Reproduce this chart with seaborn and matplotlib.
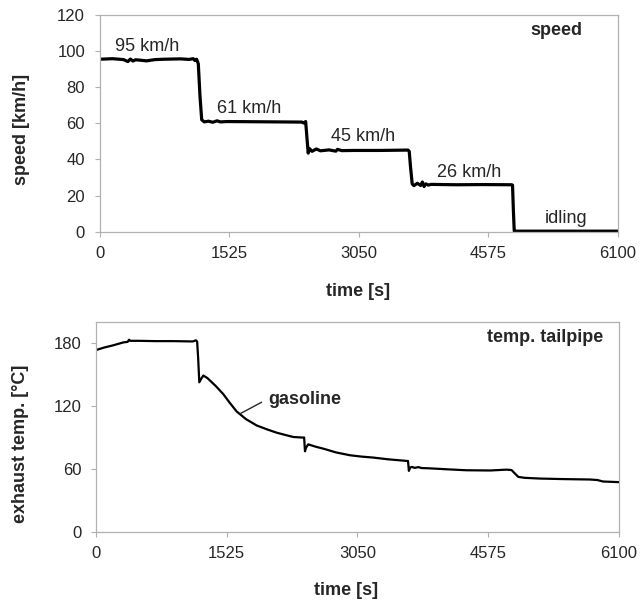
import matplotlib
matplotlib.use("Agg")
import matplotlib.pyplot as plt
import seaborn as sns
import pandas as pd

sns.set_theme(style="white")
plt.rcParams['font.family'] = ['Liberation Sans', 'DejaVu Sans']

# ---- data ----
speed_t = [0, 150, 280, 330, 360, 390, 420, 470, 550, 650, 750, 850, 950, 1050, 1100, 1120,
           1140, 1160, 1180, 1200, 1230, 1280, 1330, 1380, 1420, 1500, 1800, 2100, 2380, 2400,
           2425, 2440, 2455, 2470, 2500, 2550, 2600, 2700, 2780, 2800, 2850, 3000, 3300, 3630,
           3645, 3660, 3680, 3700, 3740, 3780, 3800, 3820, 3840, 3870, 3900, 4200, 4500, 4850,
           4862, 4872, 4882, 4892, 5200, 5600, 6100]
speed_v = [95.5, 95.8, 95.3, 94.2, 95.6, 94.5, 95.2, 95.0, 94.6, 95.3, 95.5, 95.6, 95.7, 95.4, 95.8, 94.8,
           95.5, 93.0, 75.0, 62.0, 60.8, 61.2, 60.6, 61.4, 60.8, 61.0, 60.9, 60.8, 60.7, 60.2,
           61.0, 52.0, 43.5, 46.0, 44.5, 45.8, 44.8, 45.3, 44.6, 45.6, 44.9, 45.0, 45.0, 45.2,
           44.5, 36.0, 26.5, 25.5, 26.8, 25.6, 27.5, 25.0, 26.5, 25.8, 26.2, 26.0, 26.1, 26.0,
           25.8, 12.0, 0.5, 0.3, 0.3, 0.3, 0.3]

temp_t = [0, 100, 200, 320, 370, 385, 400, 500, 700, 900, 1130, 1165, 1180, 1192, 1205, 1230,
          1252, 1300, 1400, 1485, 1560, 1641, 1750, 1874, 2000, 2108, 2200, 2302, 2418, 2428,
          2438, 2450, 2476, 2560, 2651, 2800, 2963, 3100, 3234, 3400, 3624, 3640, 3650, 3665,
          3682, 3720, 3760, 3800, 3876, 4100, 4324, 4600, 4790, 4848, 4880, 4926, 5000, 5179,
          5450, 5762, 5850, 5914, 6100]
temp_v = [173.0, 175.5, 177.5, 180.3, 180.8, 182.8, 181.8, 181.8, 181.5, 181.5, 181.2, 182.3, 181.0, 165.0, 142.3, 146.0,
          148.7, 146.3, 138.5, 131.0, 122.8, 114.5, 107.2, 101.2, 97.3, 94.3, 92.3, 90.2, 89.6, 89.8,
          76.6, 80.0, 83.2, 81.0, 79.1, 75.5, 72.8, 71.5, 70.6, 69.0, 67.4, 67.3, 57.9, 61.0,
          61.7, 60.8, 61.5, 60.6, 60.4, 59.4, 58.5, 58.3, 59.1, 58.7, 56.0, 52.2, 51.3, 50.6,
          50.1, 49.7, 49.2, 47.8, 47.2]

x_ticks = [0, 1525, 3050, 4575, 6100]
speed_ticks = [0, 20, 40, 60, 80, 100, 120]
temp_ticks = [0, 60, 120, 180]
speed_labels = ["95 km/h", "61 km/h", "45 km/h", "26 km/h", "idling"]
speed_label_pos = [(562, 102.4), (1758, 68), (3097, 52.5), (4347, 33), (5495, 7.3)]

df_speed = pd.DataFrame({"t": speed_t, "v": speed_v})
df_temp = pd.DataFrame({"t": temp_t, "v": temp_v})

fig = plt.figure(figsize=(6.4, 6.02), dpi=100)
ax1 = fig.add_axes([0.156, 0.6151, 0.809, 0.360])
ax2 = fig.add_axes([0.150, 0.1168, 0.817, 0.3488])

spine_col = "#b0b0b0"
txt_col = "#262626"

sns.lineplot(data=df_speed, x="t", y="v", ax=ax1, color="black", linewidth=2.3, sort=False)
sns.lineplot(data=df_temp, x="t", y="v", ax=ax2, color="black", linewidth=1.6, sort=False)

label_cfg = [(ax1, speed_ticks, (0, 120), "speed [km/h]", (-0.1506, 0.47), (0.499, -0.277)),
             (ax2, temp_ticks, (0, 200), "exhaust temp. [°C]", (-0.145, 0.42), (0.479, -0.279))]
for ax, yt, ylim, ylab, ylc, xlc in label_cfg:
    ax.set_xlim(0, 6100)
    ax.set_ylim(*ylim)
    ax.set_xticks(x_ticks)
    ax.set_yticks(yt)
    ax.set_xticklabels([str(v) for v in x_ticks])
    ax.tick_params(axis="both", direction="out", length=3.6, width=0.8, color=spine_col,
                   labelsize=12, labelcolor=txt_col, left=True, bottom=True)
    ax.tick_params(axis="x", pad=6.5)
    ax.tick_params(axis="y", pad=7)
    for s in ax.spines.values():
        s.set_color(spine_col)
        s.set_linewidth(0.9)
    ax.set_xlabel("time [s]", fontsize=13, fontweight="bold", color=txt_col)
    ax.set_ylabel(ylab, fontsize=13, fontweight="bold", color=txt_col)
    ax.yaxis.set_label_coords(*ylc)
    ax.xaxis.set_label_coords(*xlc)
    ax.yaxis.label.set_va("center")
    ax.xaxis.label.set_va("center")

for lab, (x, y) in zip(speed_labels, speed_label_pos):
    ax1.text(x, y, lab, ha="center", va="center", fontsize=13, color=txt_col)
ax1.text(5382, 111.5, "speed", ha="center", va="center", fontsize=13, fontweight="bold", color=txt_col)

ax2.text(5236, 184.7, "temp. tailpipe", ha="center", va="center", fontsize=13, fontweight="bold", color=txt_col)
ax2.text(2438, 126, "gasoline", ha="center", va="center", fontsize=13, fontweight="bold", color=txt_col)
ax2.annotate("", xy=(1680, 112.3), xytext=(1932, 123.3),
             arrowprops=dict(arrowstyle="-", color=txt_col, lw=1.0, shrinkA=0, shrinkB=0))

fig.savefig("out.png", dpi=100)
